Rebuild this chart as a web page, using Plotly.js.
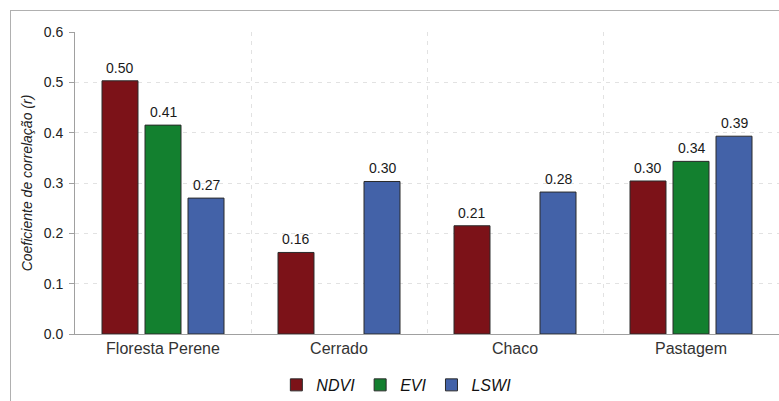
<!DOCTYPE html>
<html>
<head>
<meta charset="utf-8">
<script src="https://cdn.plot.ly/plotly-3.0.1.min.js"></script>
<style>
  html, body { margin: 0; padding: 0; background: #fff; }
  #wrap { position: relative; width: 779px; height: 401px; overflow: hidden; }
  #frame { position: absolute; left: 10px; top: 10px; width: 900px; height: 600px; border: 1px solid #b0b0b0; }
  #chart { position: absolute; left: 0; top: 0; width: 779px; height: 401px; }
</style>
</head>
<body>
<div id="wrap">
  <div id="frame"></div>
  <div id="chart"></div>
</div>
<script>
const categories = ["Floresta Perene", "Cerrado", "Chaco", "Pastagem"];
const seriesNames = ["NDVI", "EVI", "LSWI"];
const ndvi = [0.503, 0.162, 0.215, 0.304];
const evi  = [0.415, null, null, 0.343];
const lswi = [0.270, 0.303, 0.282, 0.393];
const ndviLabels = ["0.50", "0.16", "0.21", "0.30"];
const eviLabels  = ["0.41", "", "", "0.34"];
const lswiLabels = ["0.27", "0.30", "0.28", "0.39"];
const yTicks = [0, 0.1, 0.2, 0.3, 0.4, 0.5, 0.6];

const FONT = "Liberation Sans, Arial, sans-serif";
const colors = ["#7c1218", "#13802f", "#4362a8"];
const W = 779, H = 401;
const margin = { l: 75, r: 0, t: 32, b: 67 };
const BARGAP = 0.267, GROUPGAP = 0.163;

const values = [ndvi, evi, lswi];
const labels = [ndviLabels, eviLabels, lswiLabels];

const data = values.map((vals, s) => ({
  type: "bar",
  name: seriesNames[s],
  x: categories,
  y: vals,
  marker: { color: colors[s], line: { color: "#2a2a2a", width: 1 } },
  hoverinfo: "none"
}));

// value labels above bars, placed through the axes at each bar's value
const plotW = W - margin.l - margin.r;
const slotPx = (plotW / categories.length) * (1 - BARGAP) / values.length;
const annotations = [];
values.forEach((vals, s) => {
  vals.forEach((v, i) => {
    if (v === null) return;
    annotations.push({
      x: categories[i], y: v, xref: "x", yref: "y",
      text: labels[s][i], showarrow: false,
      xanchor: "center", yanchor: "bottom",
      xshift: (s - (values.length - 1) / 2) * slotPx,
      yshift: 3,
      font: { family: FONT, size: 14, color: "#1a1a1a" }
    });
  });
});

const layout = {
  width: W,
  height: H,
  margin: margin,
  paper_bgcolor: "rgba(0,0,0,0)",
  plot_bgcolor: "rgba(0,0,0,0)",
  font: { family: FONT, color: "#222" },
  barmode: "group",
  bargap: BARGAP,
  bargroupgap: GROUPGAP,
  showlegend: true,
  annotations: annotations,
  legend: {
    orientation: "h",
    x: 0.286,
    xanchor: "left",
    yref: "container",
    y: 0.04,
    yanchor: "middle",
    font: { family: FONT, size: 16, style: "italic", color: "#111" },
    bgcolor: "rgba(0,0,0,0)"
  },
  xaxis: {
    type: "category",
    range: [-0.5, 3.5],
    automargin: false,
    tickson: "boundaries",
    ticks: "",
    showgrid: true,
    gridcolor: "#e2e2e2",
    griddash: "4px,5px",
    showline: true,
    linecolor: "#a0a0a0",
    linewidth: 1,
    tickfont: { family: FONT, size: 16, color: "#333" },
    fixedrange: true
  },
  yaxis: {
    range: [0, 0.6],
    automargin: false,
    tickvals: yTicks,
    tickformat: ".1f",
    ticks: "outside",
    ticklen: 5,
    tickcolor: "#a0a0a0",
    ticklabelstandoff: 3,
    showgrid: true,
    gridcolor: "#e2e2e2",
    griddash: "4px,5px",
    zeroline: false,
    showline: true,
    linecolor: "#a0a0a0",
    linewidth: 1,
    tickfont: { family: FONT, size: 14, color: "#222" },
    title: { text: "Coeficiente de correlação (r)", font: { family: FONT, size: 14, style: "italic", color: "#222" }, standoff: 7 },
    fixedrange: true
  }
};

Plotly.newPlot("chart", data, layout, { displayModeBar: false, staticPlot: true });
</script>
</body>
</html>
